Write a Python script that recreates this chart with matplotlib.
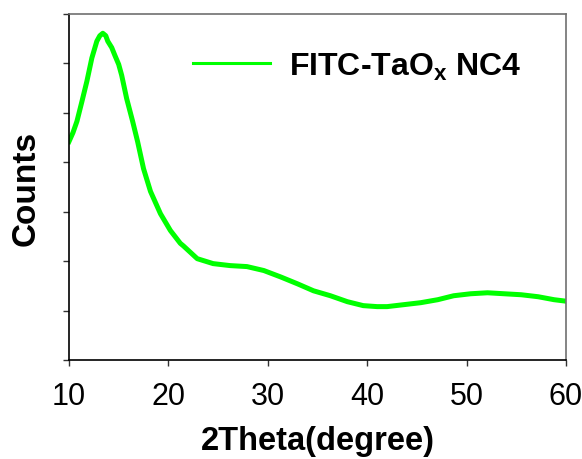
import matplotlib
matplotlib.use("Agg")
import matplotlib.pyplot as plt

# Data (2Theta in degrees, counts in arbitrary units)
two_theta = [10.0, 10.4, 10.8, 11.3, 11.8, 12.3, 12.8, 13.1, 13.4, 13.7, 13.9, 14.3,
             14.6, 15.0, 15.3, 15.8, 16.4, 16.9, 17.5, 18.2, 19.2, 20.2, 21.2, 21.5,
             22.9, 24.5, 26.2, 27.9, 29.6, 31.3, 33.0, 34.6, 36.3, 38.0, 39.6, 41.0,
             42.0, 43.7, 45.4, 47.1, 48.7, 50.4, 52.1, 53.8, 55.5, 57.2, 58.8, 60.0]
counts = [4.42, 4.60, 4.83, 5.23, 5.64, 6.11, 6.45, 6.56, 6.61, 6.56, 6.45, 6.32,
          6.17, 5.98, 5.76, 5.29, 4.83, 4.42, 3.87, 3.41, 2.96, 2.62, 2.36, 2.31,
          2.05, 1.95, 1.91, 1.89, 1.81, 1.68, 1.54, 1.40, 1.30, 1.18, 1.10, 1.08,
          1.08, 1.12, 1.16, 1.22, 1.30, 1.34, 1.36, 1.34, 1.32, 1.28, 1.22, 1.19]

x_ticks = [10, 20, 30, 40, 50, 60]
y_ticks = [0, 1, 2, 3, 4, 5, 6, 7]
series_label = r"FITC-TaO$_\mathbf{x}$ NC4"

plt.rcParams['font.family'] = ['Liberation Sans', 'DejaVu Sans']
plt.rcParams['mathtext.fontset'] = 'custom'
plt.rcParams['mathtext.rm'] = 'Liberation Sans'
plt.rcParams['mathtext.bf'] = 'Liberation Sans:bold'

fig = plt.figure(figsize=(5.82, 4.60), dpi=100)
ax = fig.add_axes([69/582, 1-361/460, (566-69)/582, (361-15)/460])

ax.plot(two_theta, counts, color='#00ff00', lw=3.6, label=series_label,
        solid_joinstyle='round')

ax.set_xlim(10, 60)
ax.set_ylim(0, 7)
ax.set_xticks(x_ticks)
ax.set_yticks(y_ticks)
ax.set_yticklabels([])
ax.tick_params(axis='x', direction='out', length=4, width=1, labelsize=22,
               pad=11, color='#333333')
ax.tick_params(axis='y', direction='out', length=4, width=1, color='#333333')

for s in ['left', 'bottom']:
    ax.spines[s].set_color('black')
    ax.spines[s].set_linewidth(1.2)
for s in ['top', 'right']:
    ax.spines[s].set_color('#707070')
    ax.spines[s].set_linewidth(1.2)

ax.set_xlabel('2Theta(degree)', fontsize=23.5, fontweight='bold', labelpad=10)
ax.set_ylabel('Counts', fontsize=24, fontweight='bold', labelpad=12)

leg = ax.legend(loc='center left', bbox_to_anchor=((193-69)/497, 1-(67-15)/346),
                frameon=False, borderpad=0, borderaxespad=0,
                handlelength=2.4, handletextpad=0.6,
                prop={'size': 23, 'weight': 'bold'})
for h in leg.get_lines():
    h.set_linewidth(2.2)

fig.savefig('out.png', dpi=100)
